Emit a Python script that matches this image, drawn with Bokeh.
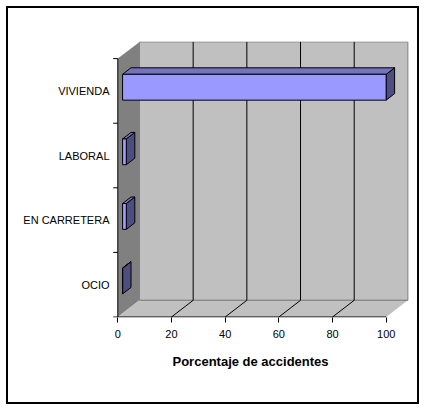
from bokeh.plotting import figure
from bokeh.models import ColumnDataSource, FixedTicker, Title
from bokeh.embed import file_html
from bokeh.resources import INLINE

# ---- data ----
categories = ["OCIO", "EN CARRETERA", "LABORAL", "VIVIENDA"]
values = [0.0, 1.4, 1.4, 98.2]
x_ticks = [0, 20, 40, 60, 80, 100]
axis_title = "Porcentaje de accidentes"

# ---- 3D geometry (data units) ----
X_MAX = 100
N = len(categories)
DX, DY = 8.08, 0.2585          # depth offset of the back wall
BAR_FRONT, BAR_DEPTH = 0.22, 0.39  # fraction of depth
BAR_H = 0.4
TICK_LEN = 1.72

FONT = "Liberation Sans"

p = figure(width=409, height=394, x_range=(-2.347, 108.68), y_range=(-0.0077, 4.2647),
           output_backend="svg", toolbar_location=None, title=None,
           min_border_left=103, min_border_right=8, min_border_top=33, min_border_bottom=85)
p.background_fill_color = "white"
p.border_fill_color = "white"
p.outline_line_color = None
p.grid.visible = False
p.styles = {"margin-left": "8px", "margin-top": "8px", "outline": "2px solid black"}

# axes
p.xaxis.ticker = FixedTicker(ticks=x_ticks)
p.xaxis.axis_line_color = None
p.xaxis.major_tick_out = 5
p.xaxis.major_tick_in = 0
p.xaxis.minor_tick_line_color = None
p.xaxis.major_tick_line_color = "black"
p.xaxis.major_label_standoff = 7
p.xaxis.major_label_text_font = FONT
p.xaxis.major_label_text_font_size = "11px"
p.xaxis.major_label_text_color = "black"

centers = [i + 0.5 for i in range(N)]
p.yaxis.ticker = FixedTicker(ticks=centers)
p.yaxis.major_label_overrides = {c: cat for c, cat in zip(centers, categories)}
p.yaxis.axis_line_color = None
p.yaxis.major_tick_line_color = None
p.yaxis.minor_tick_line_color = None
p.yaxis.major_tick_out = 0
p.yaxis.major_tick_in = 0
p.yaxis.major_label_standoff = 2
p.yaxis.major_label_text_font = FONT
p.yaxis.major_label_text_font_size = "11px"
p.yaxis.major_label_text_color = "black"

title = Title(text=axis_title, align="left", offset=61, text_font=FONT,
              text_font_size="13px", text_font_style="bold", text_color="black", standoff=22)
p.add_layout(title, "below")

# walls
p.patch(x=[0, DX, DX, 0], y=[0, DY, N + DY, N], fill_color="#808080", line_color=None)
p.quad(left=[DX], right=[X_MAX + DX], bottom=[DY], top=[N + DY],
       fill_color="#C0C0C0", line_color="#808080", line_width=1)
p.patch(x=[0, X_MAX, X_MAX + DX, DX], y=[0, 0, DY, DY], fill_color="#C0C0C0", line_color=None)
p.segment(x0=[DX], y0=[DY], x1=[X_MAX + DX], y1=[DY], line_color="#808080", line_width=1)

# gridlines on back wall and floor
inner = x_ticks[1:-1]
p.segment(x0=[t + DX for t in inner], y0=[DY] * len(inner),
          x1=[t + DX for t in inner], y1=[N + DY] * len(inner), line_color="black", line_width=1)
p.segment(x0=inner, y0=[0] * len(inner), x1=[t + DX for t in inner], y1=[DY] * len(inner),
          line_color="black", line_width=1)

# axis lines and category ticks
p.segment(x0=[0], y0=[0], x1=[X_MAX], y1=[0], line_color="black", line_width=1)
p.segment(x0=[0], y0=[0], x1=[0], y1=[N], line_color="black", line_width=1)
p.segment(x0=[-TICK_LEN] * (N + 1), y0=list(range(N + 1)), x1=[0] * (N + 1), y1=list(range(N + 1)),
          line_color="black", line_width=1)

# bars
x0 = BAR_FRONT * DX
y_off = BAR_FRONT * DY
bdx = BAR_DEPTH * DX
bdy = BAR_DEPTH * DY
lefts, rights, bottoms, tops = [], [], [], []
top_xs, top_ys, side_xs, side_ys = [], [], [], []
for c, v in zip(centers, values):
    yb = c - BAR_H / 2 + y_off
    yt = c + BAR_H / 2 + y_off
    xr = x0 + v
    lefts.append(x0); rights.append(xr); bottoms.append(yb); tops.append(yt)
    top_xs.append([x0, xr, xr + bdx, x0 + bdx])
    top_ys.append([yt, yt, yt + bdy, yt + bdy])
    side_xs.append([xr, xr, xr + bdx, xr + bdx])
    side_ys.append([yb, yt, yt + bdy, yb + bdy])

p.patches(xs=side_xs, ys=side_ys, fill_color="#4D4D80", line_color="black", line_width=1)
p.patches(xs=top_xs, ys=top_ys, fill_color="#7373BF", line_color="black", line_width=1)
src = ColumnDataSource(dict(left=lefts, right=rights, bottom=bottoms, top=tops))
p.quad(left="left", right="right", bottom="bottom", top="top", source=src,
       fill_color="#9999FF", line_color="black", line_width=1)

open("out.html", "w").write(file_html(p, INLINE))
